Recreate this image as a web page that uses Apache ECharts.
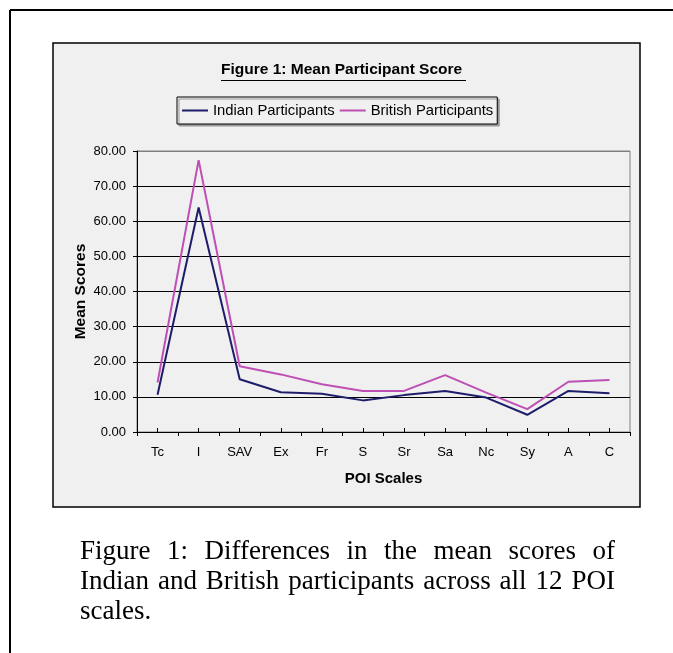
<!DOCTYPE html>
<html>
<head>
<meta charset="utf-8">
<script src="https://cdn.jsdelivr.net/npm/echarts@6/dist/echarts.min.js"></script>
<style>
  html, body { margin: 0; padding: 0; background: #fff; }
  #wrap { position: relative; width: 673px; height: 653px; overflow: hidden; }
  #chart { position: absolute; left: 0; top: 0; width: 673px; height: 653px; }
  #caption {
    position: absolute; left: 80px; top: 535px; width: 535px;
    font-family: "Liberation Serif", "Times New Roman", serif;
    font-size: 27px; line-height: 30px; color: #000;
    text-align: justify;
  }
</style>
</head>
<body>
<div id="wrap">
  <div id="chart"></div>
  <div id="caption">Figure 1: Differences in the mean scores of Indian and British participants across all 12 POI scales.</div>
</div>
<script>
// POI scale abbreviations
const scales = ["Tc", "I", "SAV", "Ex", "Fr", "S", "Sr", "Sa", "Nc", "Sy", "A", "C"];
const indianScores = [10.6, 63.9, 15.0, 11.3, 10.9, 9.0, 10.5, 11.7, 9.8, 4.9, 11.7, 11.0];
const britishScores = [14.1, 77.4, 18.7, 16.4, 13.6, 11.7, 11.7, 16.2, 11.2, 6.5, 14.3, 14.8];
const yTicks = [0, 10, 20, 30, 40, 50, 60, 70, 80];

const chart = echarts.init(document.getElementById("chart"));
const font = "Liberation Sans, Arial, sans-serif";

const option = {
  backgroundColor: "#fff",
  animation: false,
  textStyle: { fontFamily: font, color: "#000" },
  title: {
    text: "Figure 1: Mean Participant Score",
    left: 221,
    top: 62,
    padding: 0,
    textStyle: { fontSize: 15.5, fontWeight: "bold", color: "#000", fontFamily: font }
  },
  graphic: [
    // outer page frame (left + top)
    { type: "line", z: -20, shape: { x1: 10, y1: 10, x2: 10, y2: 653 }, style: { stroke: "#000", lineWidth: 2 } },
    { type: "line", z: -20, shape: { x1: 10, y1: 10, x2: 673, y2: 10 }, style: { stroke: "#000", lineWidth: 2 } },
    // chart area box
    { type: "rect", z: -10, shape: { x: 53, y: 43, width: 587, height: 464 }, style: { fill: "#f0f0f0", stroke: "#000", lineWidth: 1.5 } },
    // title underline
    { type: "line", z: 10, shape: { x1: 221, y1: 80.5, x2: 466, y2: 80.5 }, style: { stroke: "#000", lineWidth: 1 } }
  ],
  legend: {
    left: 177,
    top: 97,
    padding: [5, 4, 5, 5],
    itemGap: 5,
    itemWidth: 26,
    itemHeight: 2,
    icon: "rect",
    backgroundColor: "#f0f0f0",
    borderColor: "#000",
    borderWidth: 1,
    shadowColor: "#999",
    shadowOffsetX: 2,
    shadowOffsetY: 2,
    shadowBlur: 0,
    textStyle: { fontSize: 14.8, lineHeight: 17, color: "#000", fontFamily: font },
    data: ["Indian Participants", "British Participants"]
  },
  grid: {
    left: 137,
    right: 43,
    top: 151,
    bottom: 221,
    show: true,
    backgroundColor: "transparent",
    borderColor: "#808080",
    borderWidth: 1
  },
  xAxis: [
    {
      type: "category",
      data: scales,
      boundaryGap: true,
      name: "POI Scales",
      nameLocation: "middle",
      nameGap: 39,
      nameMoveOverlap: false,
      nameTextStyle: { fontSize: 15, fontWeight: "bold", color: "#000", fontFamily: font },
      axisLine: { lineStyle: { color: "#000", width: 1 } },
      axisTick: { show: true, length: 4, lineStyle: { color: "#000" } },
      axisLabel: { fontSize: 13, color: "#000", margin: 14, fontFamily: font },
      splitLine: { show: false }
    },
    {
      // inside ticks at each category point
      type: "category",
      data: scales,
      position: "bottom",
      boundaryGap: true,
      axisLine: { show: false },
      axisTick: { show: true, inside: true, alignWithLabel: true, length: 4, lineStyle: { color: "#000" } },
      axisLabel: { show: false },
      splitLine: { show: false }
    }
  ],
  yAxis: {
    type: "value",
    min: yTicks[0],
    max: yTicks[yTicks.length - 1],
    interval: 10,
    name: "Mean Scores",
    nameLocation: "middle",
    nameGap: 48,
    nameMoveOverlap: false,
    nameTextStyle: { fontSize: 15.5, fontWeight: "bold", color: "#000", fontFamily: font },
    axisLine: { show: true, lineStyle: { color: "#000", width: 1 } },
    axisTick: { show: true, length: 4, lineStyle: { color: "#000" } },
    axisLabel: {
      fontSize: 13, color: "#000", margin: 11, fontFamily: font,
      formatter: v => v.toFixed(2)
    },
    splitLine: {
      show: true,
      lineStyle: { color: yTicks.map((t, i) => (i === yTicks.length - 1 ? "#808080" : "#000")), width: 1 }
    }
  },
  series: [
    {
      name: "Indian Participants",
      type: "line",
      data: indianScores,
      symbol: "none",
      color: "#1d1d6b",
      lineStyle: { color: "#1d1d6b", width: 2 }
    },
    {
      name: "British Participants",
      type: "line",
      data: britishScores,
      symbol: "none",
      color: "#bd4fb5",
      lineStyle: { color: "#bd4fb5", width: 2 }
    }
  ]
};

chart.setOption(option);
</script>
</body>
</html>
